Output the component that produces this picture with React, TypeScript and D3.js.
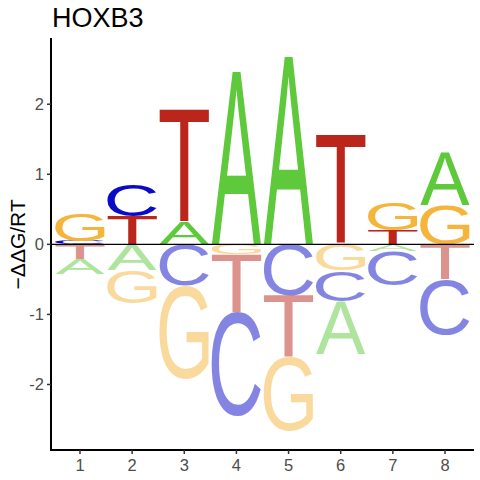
import * as d3 from 'd3';

// ddG values per base at positions 1..8 (one value per base and position)
const POSITIONS = [1, 2, 3, 4, 5, 6, 7, 8];
const BASES = ['A', 'C', 'G', 'T'];
const A_VALUES = [-0.222, -0.37, 0.31, 2.46, 2.68, -0.75, -0.09, 0.745];
const C_VALUES = [0.045, 0.453, -0.583, -1.48, -0.73, -0.438, -0.493, -0.782];
const G_VALUES = [0.4, -0.47, -1.337, -0.14, -1.044, -0.377, 0.398, 0.555];
const T_VALUES = [-0.205, 0.4, 1.615, -0.837, -0.896, 1.565, 0.195, -0.502];
const Y_TICKS = [-2, -1, 0, 1, 2];

const VALUES: Record<string, number[]> = { A: A_VALUES, C: C_VALUES, G: G_VALUES, T: T_VALUES };
const COLORS: Record<string, string> = { A: '#5DC93B', C: '#0A0AC8', G: '#F5B43C', T: '#BA261C' };

const width = 480;
const height = 480;
const margin = { top: 38, right: 6, bottom: 30, left: 51 };
const LETTER_WIDTH = 0.95;
const GLYPH_FONT = '"Liberation Sans"';
const GLYPH_WEIGHT = 400;

const x = d3.scaleLinear().domain([0.444, 8.556]).range([margin.left, width - margin.right]);
const y = d3.scaleLinear().domain([-2.935, 2.945]).range([height - margin.bottom, margin.top]);

// tight ink bounds of a glyph at 100px
const ctx = document.createElement('canvas').getContext('2d')!;
const metrics = (ch: string) => {
    ctx.font = `${GLYPH_WEIGHT} 100px ${GLYPH_FONT}`;
    const m = ctx.measureText(ch);
    return {
        left: m.actualBoundingBoxLeft,
        right: m.actualBoundingBoxRight,
        ascent: m.actualBoundingBoxAscent,
        descent: m.actualBoundingBoxDescent,
    };
};

type Glyph = { key: string; base: string; pos: number; y0: number; y1: number; neg: boolean };

const glyphs: Glyph[] = [];
POSITIONS.forEach((pos, i) => {
    const entries = BASES.map((b) => ({ b, v: VALUES[b][i] }));
    const up = entries.filter((e) => e.v > 0).sort((a, b) => a.v - b.v);
    const down = entries.filter((e) => e.v < 0).sort((a, b) => b.v - a.v);
    let acc = 0;
    up.forEach((e) => {
        glyphs.push({ key: `${pos}${e.b}`, base: e.b, pos, y0: acc, y1: acc + e.v, neg: false });
        acc += e.v;
    });
    acc = 0;
    down.forEach((e) => {
        glyphs.push({ key: `${pos}${e.b}`, base: e.b, pos, y0: acc, y1: acc + e.v, neg: true });
        acc += e.v;
    });
});

const Letter = ({ g }: { g: Glyph }) => {
    const m = metrics(g.base);
    const x0 = x(g.pos - LETTER_WIDTH / 2);
    const x1 = x(g.pos + LETTER_WIDTH / 2);
    const top = Math.min(y(g.y0), y(g.y1));
    const bottom = Math.max(y(g.y0), y(g.y1));
    const sx = (x1 - x0) / (m.left + m.right);
    const sy = (bottom - top) / (m.ascent + m.descent);
    return (
        <text
            transform={`translate(${x0 + m.left * sx},${top + m.ascent * sy}) scale(${sx},${sy})`}
            fontFamily={GLYPH_FONT}
            fontWeight={GLYPH_WEIGHT}
            fontSize={100}
            fill={COLORS[g.base]}
            fillOpacity={g.neg ? 0.5 : 1}
        >
            {g.base}
        </text>
    );
};

const App = () => {
    const font = '"Liberation Sans", Arial, sans-serif';
    return (
        <svg width={width} height={height} style={{ position: 'absolute', left: 0, top: 0 }} fontFamily={font}>
            <rect width={width} height={height} fill="#fff" />
            {glyphs.map((g) => (
                <Letter key={g.key} g={g} />
            ))}
            {/* zero line */}
            <line x1={margin.left} x2={width - margin.right} y1={y(0)} y2={y(0)} stroke="#000" strokeWidth={1.1} />

            {/* axes */}
            <line x1={margin.left} x2={margin.left} y1={margin.top} y2={height - margin.bottom + 1} stroke="#000" strokeWidth={2} />
            <line x1={margin.left - 1} x2={width - margin.right} y1={height - margin.bottom} y2={height - margin.bottom} stroke="#000" strokeWidth={2} />
            {Y_TICKS.map((t) => (
                <g key={t}>
                    <line x1={margin.left - 4} x2={margin.left} y1={y(t)} y2={y(t)} stroke="#333" strokeWidth={1.5} />
                    <text x={margin.left - 7} y={y(t)} dy="0.36em" textAnchor="end" fontSize={16.5} fill="#4D4D4D">
                        {t}
                    </text>
                </g>
            ))}
            {POSITIONS.map((p) => (
                <g key={p}>
                    <line x1={x(p)} x2={x(p)} y1={height - margin.bottom} y2={height - margin.bottom + 4} stroke="#333" strokeWidth={1.5} />
                    <text x={x(p)} y={height - margin.bottom + 21} textAnchor="middle" fontSize={16.5} fill="#4D4D4D">
                        {p}
                    </text>
                </g>
            ))}
            <text x={52} y={27} fontSize={27} fill="#000">
                HOXB3
            </text>
            <text transform={`translate(25,${y(0)}) rotate(-90)`} textAnchor="middle" fontSize={21} fill="#000">
                −ΔΔG/RT
            </text>
        </svg>
    );
};

export default App;
